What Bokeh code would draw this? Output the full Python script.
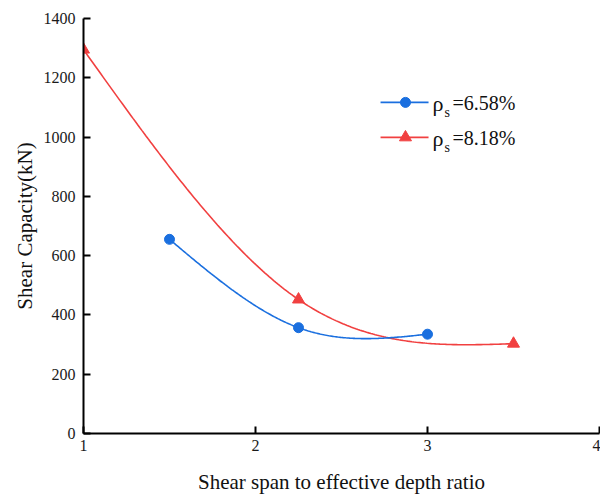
import numpy as np
from bokeh.plotting import figure
from bokeh.models import Range1d, Label, FixedTicker
from bokeh.embed import file_html
from bokeh.resources import INLINE

# ---- data ----
blue_x = [1.5, 2.25, 3.0]
blue_y = [655, 357, 335]
red_x = [1.0, 2.25, 3.5]
red_y = [1295, 452, 303]
x_ticks = [1, 2, 3, 4]
y_ticks = [0, 200, 400, 600, 800, 1000, 1200, 1400]
blue_label = "=6.58%"
red_label = "=8.18%"

BLUE = "#1A6FDF"
RED = "#F14040"
FONT = "Liberation Serif"


def natural_spline(xs, ys, n=200):
    xs = np.asarray(xs, float)
    ys = np.asarray(ys, float)
    k = len(xs)
    h = np.diff(xs)
    A = np.zeros((k, k))
    r = np.zeros(k)
    A[0, 0] = 1
    A[-1, -1] = 1
    for i in range(1, k - 1):
        A[i, i - 1] = h[i - 1]
        A[i, i] = 2 * (h[i - 1] + h[i])
        A[i, i + 1] = h[i]
        r[i] = 6 * ((ys[i + 1] - ys[i]) / h[i] - (ys[i] - ys[i - 1]) / h[i - 1])
    M = np.linalg.solve(A, r)
    xx = np.linspace(xs[0], xs[-1], n)
    yy = np.empty_like(xx)
    for j, x in enumerate(xx):
        i = min(np.searchsorted(xs, x, side="right") - 1, k - 2)
        a = xs[i + 1] - x
        b = x - xs[i]
        yy[j] = (M[i] * a ** 3 + M[i + 1] * b ** 3) / (6 * h[i]) \
            + (ys[i] / h[i] - M[i] * h[i] / 6) * a \
            + (ys[i + 1] / h[i] - M[i + 1] * h[i] / 6) * b
    return xx, yy


p = figure(width=600, height=497, x_range=Range1d(1, 4), y_range=Range1d(0, 1400),
           output_backend="svg", toolbar_location=None,
           min_border_left=83, min_border_right=1, min_border_top=18, min_border_bottom=64)
p.outline_line_color = None
p.xgrid.visible = False
p.ygrid.visible = False

for ax in (p.xaxis[0], p.yaxis[0]):
    ax.axis_line_width = 2
    ax.axis_line_color = "black"
    ax.major_tick_line_width = 2
    ax.major_tick_in = 7
    ax.major_tick_out = 0
    ax.minor_tick_line_color = None
    ax.major_label_text_font = FONT
    ax.major_label_text_font_size = "16px"
    ax.major_label_text_color = "#1a1a1a"
    ax.axis_label_text_font = FONT
    ax.axis_label_text_font_size = "21px"
    ax.axis_label_text_font_style = "normal"
    ax.axis_label_text_color = "#111111"

p.xaxis.ticker = FixedTicker(ticks=x_ticks)
p.yaxis.ticker = FixedTicker(ticks=y_ticks)
p.xaxis.axis_label = "Shear span to effective depth ratio"
p.yaxis.axis_label = "Shear Capacity(kN)"
p.xaxis.major_label_standoff = 6
p.yaxis.major_label_standoff = 8
p.xaxis.axis_label_standoff = 16
p.yaxis.axis_label_standoff = 4

bx, by = natural_spline(blue_x, blue_y)
rx, ry = natural_spline(red_x, red_y)
p.line(rx, ry, line_color=RED, line_width=1.6)
p.line(bx, by, line_color=BLUE, line_width=1.6)
p.scatter(blue_x, blue_y, marker="circle", size=10, color=BLUE)
p.scatter(red_x, red_y, marker="triangle", size=12, color=RED)

# ---- manual legend ----
leg_x0, leg_x1, leg_xm = 2.727, 3.006, 2.872
leg_tx = 3.029
leg_y = [1117, 999]
leg_col = [BLUE, RED]
leg_mark = ["circle", "triangle"]
leg_size = [10, 12]
leg_txt = [blue_label, red_label]
for yv, c, m, s, t in zip(leg_y, leg_col, leg_mark, leg_size, leg_txt):
    p.line([leg_x0, leg_x1], [yv, yv], line_color=c, line_width=1.6)
    p.scatter([leg_xm], [yv], marker=m, size=s, color=c)
    p.add_layout(Label(x=leg_tx, y=yv, y_offset=-1, text="ρ", text_font=FONT, text_font_size="22px",
                       text_baseline="middle", text_color="#111111"))
    p.add_layout(Label(x=leg_tx, y=yv, x_offset=12, y_offset=-10, text="s", text_font=FONT,
                       text_font_size="14px", text_baseline="middle", text_color="#111111"))
    p.add_layout(Label(x=leg_tx, y=yv, x_offset=20, y_offset=-1, text=t, text_font=FONT,
                       text_font_size="20px", text_baseline="middle", text_color="#111111"))

open("out.html", "w").write(file_html(p, INLINE))
